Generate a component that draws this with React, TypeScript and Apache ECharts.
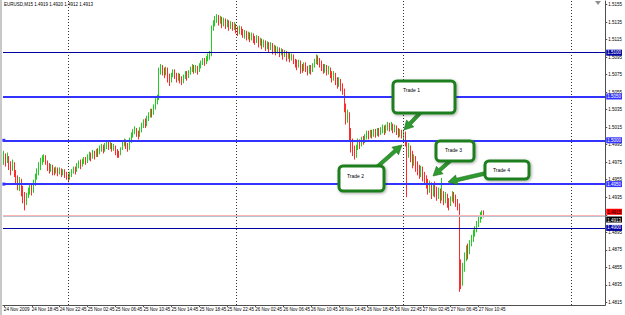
import React, { useEffect, useRef } from "react";
import * as echarts from "echarts";

// EURUSD M15, 24 Nov 2009 14:45 .. 27 Nov 2009 11:30
const firstOpen = 1.4978;
const closes = [
  1.4983,1.4976,1.4981,1.4972,1.4968,1.4974,1.4963,1.4958,1.4950,1.4954,1.4945,1.4938,
  1.4930,1.4936,1.4942,1.4946,1.4941,1.4950,1.4958,1.4963,1.4970,1.4975,1.4979,1.4982,
  1.4975,1.4970,1.4967,1.4970,1.4966,1.4964,1.4967,1.4963,1.4966,1.4962,1.4965,1.4961,
  1.4959,1.4957,1.4961,1.4964,1.4967,1.4965,1.4970,1.4974,1.4972,1.4976,1.4979,1.4976,
  1.4980,1.4984,1.4981,1.4986,1.4983,1.4988,1.4986,1.4990,1.4993,1.4989,1.4994,1.4996,
  1.4993,1.4995,1.4991,1.4993,1.4988,1.4985,1.4984,1.4990,1.4996,1.4999,1.4994,1.4991,
  1.4998,1.5005,1.5010,1.5013,1.5008,1.5005,1.5011,1.5016,1.5021,1.5018,1.5024,1.5029,
  1.5033,1.5030,1.5037,1.5043,1.5048,1.5079,1.5083,1.5080,1.5076,1.5081,1.5073,1.5068,
  1.5074,1.5078,1.5075,1.5071,1.5074,1.5070,1.5067,1.5072,1.5076,1.5073,1.5077,1.5081,
  1.5084,1.5080,1.5083,1.5079,1.5084,1.5088,1.5091,1.5089,1.5093,1.5096,1.5098,1.5128,
  1.5133,1.5138,1.5141,1.5136,1.5139,1.5134,1.5137,1.5132,1.5135,1.5130,1.5133,1.5129,
  1.5131,1.5127,1.5124,1.5128,1.5125,1.5121,1.5123,1.5119,1.5121,1.5117,1.5120,1.5116,
  1.5114,1.5118,1.5111,1.5115,1.5109,1.5113,1.5107,1.5111,1.5105,1.5110,1.5103,1.5107,
  1.5101,1.5105,1.5099,1.5103,1.5096,1.5101,1.5094,1.5099,1.5093,1.5097,1.5091,1.5088,
  1.5086,1.5090,1.5084,1.5082,1.5086,1.5083,1.5079,1.5083,1.5080,1.5085,1.5090,1.5094,
  1.5091,1.5088,1.5085,1.5081,1.5084,1.5079,1.5082,1.5077,1.5073,1.5076,1.5070,1.5066,
  1.5069,1.5063,1.5058,1.5040,1.5026,1.5030,1.5012,1.4998,1.4990,1.4986,1.4992,1.4998,
  1.4995,1.5001,1.4999,1.5004,1.5007,1.5005,1.5009,1.5006,1.5010,1.5007,1.5011,1.5008,
  1.5012,1.5014,1.5011,1.5015,1.5018,1.5014,1.5017,1.5013,1.5015,1.5011,1.5008,1.5010,
  1.5006,1.5008,1.4999,1.4986,1.4990,1.4983,1.4976,1.4980,1.4972,1.4968,1.4964,1.4968,
  1.4960,1.4956,1.4952,1.4946,1.4950,1.4942,1.4947,1.4943,1.4938,1.4942,1.4936,1.4939,
  1.4933,1.4937,1.4931,1.4927,1.4933,1.4938,1.4935,1.4930,1.4926,1.4858,1.4840,1.4855,
  1.4868,1.4875,1.4871,1.4882,1.4888,1.4894,1.4898,1.4904,1.4909,1.4914,1.4919,1.4913,
];
const lows = [
  1.4972,1.4970,1.4974,1.4966,1.4960,1.4965,1.4958,1.4950,1.4943,1.4942,1.4936,1.4928,
  1.4920,1.4926,1.4934,1.4938,1.4937,1.4940,1.4948,1.4955,1.4960,1.4966,1.4972,1.4975,
  1.4972,1.4965,1.4962,1.4964,1.4960,1.4960,1.4962,1.4959,1.4961,1.4958,1.4960,1.4957,
  1.4955,1.4952,1.4955,1.4958,1.4962,1.4961,1.4964,1.4968,1.4967,1.4970,1.4973,1.4972,
  1.4974,1.4977,1.4976,1.4979,1.4978,1.4981,1.4981,1.4984,1.4987,1.4985,1.4987,1.4990,
  1.4989,1.4990,1.4987,1.4988,1.4983,1.4980,1.4980,1.4983,1.4989,1.4993,1.4990,1.4987,
  1.4989,1.4997,1.5003,1.5007,1.5004,1.5001,1.5004,1.5009,1.5014,1.5014,1.5016,1.5022,
  1.5026,1.5026,1.5029,1.5035,1.5041,1.5046,1.5075,1.5074,1.5071,1.5074,1.5066,1.5062,
  1.5066,1.5072,1.5070,1.5066,1.5068,1.5065,1.5063,1.5065,1.5070,1.5068,1.5071,1.5075,
  1.5078,1.5076,1.5077,1.5075,1.5078,1.5082,1.5086,1.5085,1.5087,1.5090,1.5092,1.5096,
  1.5125,1.5130,1.5134,1.5131,1.5133,1.5128,1.5130,1.5127,1.5129,1.5125,1.5127,1.5125,
  1.5126,1.5122,1.5119,1.5121,1.5120,1.5117,1.5116,1.5114,1.5115,1.5112,1.5114,1.5111,
  1.5109,1.5111,1.5106,1.5108,1.5104,1.5106,1.5102,1.5104,1.5100,1.5103,1.5098,1.5101,
  1.5097,1.5099,1.5095,1.5097,1.5092,1.5095,1.5090,1.5093,1.5089,1.5091,1.5087,1.5083,
  1.5080,1.5083,1.5076,1.5077,1.5079,1.5078,1.5074,1.5076,1.5075,1.5078,1.5083,1.5087,
  1.5086,1.5083,1.5079,1.5076,1.5077,1.5074,1.5075,1.5071,1.5066,1.5068,1.5063,1.5059,
  1.5061,1.5056,1.5052,1.5032,1.5018,1.5020,1.5000,1.4986,1.4982,1.4978,1.4980,1.4989,
  1.4990,1.4993,1.4995,1.4997,1.5001,1.5001,1.5003,1.5002,1.5004,1.5003,1.5005,1.5004,
  1.5006,1.5008,1.5006,1.5008,1.5011,1.5010,1.5011,1.5008,1.5009,1.5006,1.5003,1.5004,
  1.5002,1.5001,1.4993,1.4935,1.4980,1.4975,1.4968,1.4971,1.4964,1.4960,1.4956,1.4958,
  1.4953,1.4950,1.4945,1.4938,1.4940,1.4933,1.4936,1.4935,1.4931,1.4933,1.4928,1.4931,
  1.4926,1.4928,1.4923,1.4920,1.4925,1.4930,1.4928,1.4924,1.4920,1.4827,1.4830,1.4834,
  1.4850,1.4862,1.4864,1.4870,1.4879,1.4884,1.4890,1.4895,1.4901,1.4906,1.4910,1.4912,
];
const highs = [
  1.4988,1.4985,1.4986,1.4982,1.4976,1.4978,1.4975,1.4966,1.4960,1.4958,1.4956,1.4948,
  1.4941,1.4940,1.4946,1.4951,1.4950,1.4955,1.4962,1.4968,1.4975,1.4980,1.4983,1.4984,
  1.4983,1.4977,1.4974,1.4973,1.4972,1.4969,1.4970,1.4969,1.4969,1.4968,1.4967,1.4967,
  1.4964,1.4962,1.4964,1.4967,1.4970,1.4970,1.4974,1.4977,1.4978,1.4979,1.4981,1.4981,
  1.4984,1.4987,1.4986,1.4989,1.4988,1.4990,1.4991,1.4994,1.4996,1.4995,1.4997,1.4999,
  1.4999,1.4998,1.4997,1.4996,1.4994,1.4990,1.4988,1.4992,1.5000,1.5002,1.5001,1.4997,
  1.5003,1.5009,1.5013,1.5016,1.5014,1.5011,1.5015,1.5020,1.5024,1.5025,1.5028,1.5032,
  1.5036,1.5036,1.5041,1.5048,1.5052,1.5083,1.5087,1.5086,1.5083,1.5084,1.5083,1.5076,
  1.5077,1.5081,1.5081,1.5077,1.5077,1.5076,1.5073,1.5075,1.5079,1.5079,1.5080,1.5084,
  1.5087,1.5086,1.5086,1.5085,1.5088,1.5091,1.5094,1.5094,1.5096,1.5099,1.5102,1.5131,
  1.5137,1.5142,1.5144,1.5143,1.5142,1.5141,1.5140,1.5139,1.5138,1.5137,1.5136,1.5135,
  1.5135,1.5133,1.5130,1.5131,1.5130,1.5127,1.5126,1.5125,1.5124,1.5123,1.5123,1.5122,
  1.5119,1.5120,1.5119,1.5117,1.5116,1.5115,1.5114,1.5113,1.5112,1.5112,1.5111,1.5109,
  1.5108,1.5107,1.5106,1.5105,1.5104,1.5103,1.5102,1.5101,1.5100,1.5099,1.5098,1.5093,
  1.5092,1.5092,1.5091,1.5087,1.5089,1.5089,1.5085,1.5086,1.5086,1.5088,1.5093,1.5098,
  1.5097,1.5094,1.5091,1.5087,1.5087,1.5086,1.5085,1.5083,1.5079,1.5079,1.5077,1.5072,
  1.5072,1.5070,1.5065,1.5059,1.5042,1.5035,1.5032,1.5014,1.5002,1.4994,1.4995,1.5002,
  1.5001,1.5004,1.5005,1.5007,1.5011,1.5011,1.5012,1.5012,1.5013,1.5013,1.5014,1.5014,
  1.5015,1.5018,1.5017,1.5018,1.5021,1.5020,1.5021,1.5019,1.5018,1.5017,1.5014,1.5013,
  1.5012,1.5012,1.5010,1.5000,1.4997,1.4994,1.4988,1.4984,1.4982,1.4976,1.4972,1.4971,
  1.4970,1.4964,1.4960,1.4956,1.4954,1.4952,1.4950,1.4953,1.4947,1.4946,1.4945,1.4957,
  1.4942,1.4941,1.4939,1.4934,1.4936,1.4942,1.4941,1.4938,1.4933,1.4928,1.4864,1.4860,
  1.4872,1.4880,1.4882,1.4886,1.4892,1.4898,1.4902,1.4908,1.4913,1.4918,1.4920,1.4920,
];

const startTimeUTC = Date.UTC(2009, 10, 24, 14, 45);
const barMinutes = 15;
const slotCount = 345; // bars + empty right shift area
const labelEvery = 16;
const lastLabelIndex = 272;
const firstLabel = "24 Nov 2009";
const separatorIndices = [37, 133, 229, 325];
const yMin = 1.4812;
const yMax = 1.5159;
const yTicks = [
  1.4815, 1.4835, 1.4855, 1.4875, 1.4895, 1.4915, 1.4935, 1.4955, 1.4975,
  1.4995, 1.5015, 1.5035, 1.5055, 1.5075, 1.5095, 1.5115, 1.5135, 1.5155,
];
// 1.4915 is covered by the price boxes in the reference
const yTickLabels = yTicks.filter((v) => v !== 1.4915);
const levelValues = [1.51, 1.505, 1.5, 1.495, 1.49];
const levelColors = ["#0000a0", "#3333ff", "#3333ff", "#3333ff", "#0000a0"];
const levelWidths = [1, 2, 2, 2, 1];
const handleLevels = [1.5, 1.495];
const askPrice = 1.4915;
const bidPrice = 1.4913;
const titleText = "EURUSD,M15 1.4919 1.4920 1.4912 1.4913";

const tradeLabels = ["Trade 1", "Trade 2", "Trade 3", "Trade 4"];
const tradeBoxes = [
  [393, 81, 62, 32],
  [339, 166, 45, 25],
  [436, 141, 38, 20],
  [485, 161, 44, 18],
];
const tradeTextPos = [
  [403, 87],
  [347, 173],
  [445, 147],
  [493, 167],
];
const tradeArrows = [
  [420, 113, 404, 130],
  [377, 167, 402, 145],
  [450, 161, 433, 176],
  [487, 173, 448, 182],
];

const MONTHS = ["Jan","Feb","Mar","Apr","May","Jun","Jul","Aug","Sep","Oct","Nov","Dec"];
function fmtTime(t: number) {
  const d = new Date(t);
  const dd = String(d.getUTCDate()).padStart(2, "0");
  const hh = String(d.getUTCHours()).padStart(2, "0");
  const mm = String(d.getUTCMinutes()).padStart(2, "0");
  return `${dd} ${MONTHS[d.getUTCMonth()]} ${hh}:${mm}`;
}

function arrowPoints(x1: number, y1: number, x2: number, y2: number) {
  const dx = x2 - x1, dy = y2 - y1;
  const len = Math.hypot(dx, dy);
  const ux = dx / len, uy = dy / len;
  const nx = -uy, ny = ux;
  const w = 1.8, L = 9, H = 5;
  const bx = x2 - ux * L, by = y2 - uy * L;
  return [
    [x1 + nx * w, y1 + ny * w],
    [bx + nx * w, by + ny * w],
    [bx + nx * H, by + ny * H],
    [x2, y2],
    [bx - nx * H, by - ny * H],
    [bx - nx * w, by - ny * w],
    [x1 - nx * w, y1 - ny * w],
  ];
}

export default function App() {
  const ref = useRef<HTMLDivElement>(null);
  useEffect(() => {
    if (!ref.current) return;
    const chart = echarts.init(ref.current, undefined, { renderer: "svg" });
    const cats: string[] = [];
    for (let i = 0; i < slotCount; i++) cats.push(fmtTime(startTimeUTC + i * barMinutes * 60000));
    const candles = closes.map((c, i) => {
      const o = i === 0 ? firstOpen : closes[i - 1];
      return [o, c, Math.min(lows[i], o, c), Math.max(highs[i], o, c)];
    });
    const showLabel = (idx: number) => idx % labelEvery === 0 && idx <= lastLabelIndex;
    const font = "Liberation Sans";

    const lineLabel = (bg: string, fg: string, va?: string) => ({
      show: true,
      position: "end",
      distance: 1,
      formatter: (p: any) => Number(p.value).toFixed(4),
      backgroundColor: bg,
      color: fg,
      fontSize: 4.5,
      fontFamily: font,
      padding: [1, 1, 0, 1],
      ...(va ? { verticalAlign: va } : {}),
    });

    const markData: any[] = levelValues.map((v, i) => ({
      yAxis: v,
      lineStyle: { color: levelColors[i], width: levelWidths[i], type: "solid" },
      label: lineLabel(levelColors[i], "#ffffff"),
    }));
    markData.push({
      yAxis: askPrice,
      lineStyle: { color: "#ffb4b4", width: 1, type: "solid" },
      label: lineLabel("#ff0000", "#000000", "bottom"),
    });
    markData.push({
      yAxis: bidPrice,
      lineStyle: { color: "#b4c4d0", width: 1, type: "solid" },
      label: lineLabel("#000000", "#ffffff", "top"),
    });
    separatorIndices.forEach((idx) =>
      markData.push({
        xAxis: idx,
        lineStyle: { color: "#333333", width: 1, type: [1, 2] },
        label: { show: false },
      })
    );

    const graphics: any[] = [
      { type: "rect", shape: { x: 0, y: 0, width: 2, height: 315 }, style: { fill: "#c8c8c8" }, z: 50 },
      { type: "text", x: 4, y: 2, style: { text: titleText, fontSize: 4.5, fontFamily: font, fill: "#000" }, z: 60 },
      { type: "polygon", shape: { points: [[595, 1], [601, 1], [598, 5]] }, style: { fill: "#909090" }, z: 60 },
    ];
    tradeArrows.forEach((a) =>
      graphics.push({
        type: "polygon",
        shape: { points: arrowPoints(a[0], a[1], a[2], a[3]) },
        style: { fill: "#2f9a2f", stroke: "#1a6e1a", lineWidth: 0.6 },
        z: 99,
      })
    );
    tradeBoxes.forEach((b, i) => {
      graphics.push({
        type: "rect",
        shape: { x: b[0], y: b[1], width: b[2], height: b[3], r: 4 },
        style: {
          fill: "#ffffff", stroke: "#1e7e1e", lineWidth: 3,
          shadowBlur: 3, shadowColor: "rgba(0,0,0,0.35)", shadowOffsetX: 1, shadowOffsetY: 1,
        },
        z: 100,
      });
      graphics.push({
        type: "text",
        x: tradeTextPos[i][0], y: tradeTextPos[i][1],
        style: { text: tradeLabels[i], fontSize: 5, fontFamily: font, fill: "#000" },
        z: 101,
      });
    });

    chart.setOption({
      animation: false,
      backgroundColor: "#ffffff",
      grid: { left: 3, right: 18, top: 1, bottom: 10 },
      xAxis: {
        type: "category",
        data: cats,
        boundaryGap: true,
        axisLine: { show: true, lineStyle: { color: "#505050", width: 1 } },
        axisTick: { show: true, interval: showLabel, alignWithLabel: true, length: 2, lineStyle: { color: "#505050" } },
        axisLabel: {
          interval: showLabel,
          formatter: (v: string, i: number) => (i === 0 ? firstLabel : v),
          fontSize: 4.5,
          fontFamily: font,
          color: "#000",
          align: "left",
          margin: 2,
        },
        splitLine: { show: false },
      },
      yAxis: {
        type: "value",
        position: "right",
        min: yMin,
        max: yMax,
        splitLine: { show: false },
        axisLine: { show: true, lineStyle: { color: "#505050", width: 1 } },
        axisTick: { show: true, customValues: yTicks, length: 2, lineStyle: { color: "#505050" } },
        axisLabel: {
          customValues: yTickLabels,
          formatter: (v: number) => v.toFixed(4),
          fontSize: 4.5,
          fontFamily: font,
          color: "#000",
          margin: 3,
        },
      },
      series: [
        {
          type: "candlestick",
          data: candles,
          barWidth: 1.3,
          itemStyle: {
            color: "#22cc22",
            color0: "#ff2a2a",
            borderColor: "#22cc22",
            borderColor0: "#ff2a2a",
            borderWidth: 1,
          },
          markLine: {
            silent: true,
            animation: false,
            symbol: ["none", "none"],
            symbolSize: 0,
            precision: 4,
            data: markData,
          },
          markPoint: {
            silent: true,
            symbol: "rect",
            symbolSize: 3,
            itemStyle: { color: "#3333ff" },
            label: { show: false },
            data: handleLevels.map((v) => ({ coord: [0, v] })),
          },
        },
      ],
      graphic: graphics,
    });
    return () => chart.dispose();
  }, []);
  return <div ref={ref} style={{ position: "fixed", left: 0, top: 0, width: 625, height: 315 }} />;
}
